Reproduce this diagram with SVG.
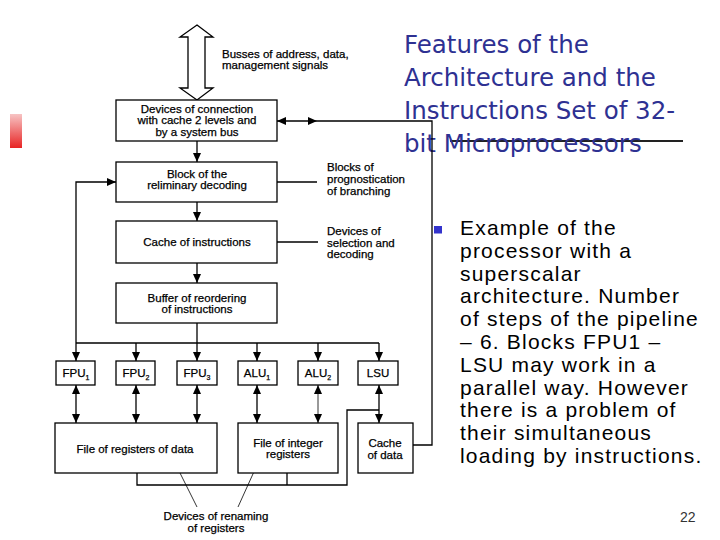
<svg xmlns="http://www.w3.org/2000/svg" width="720" height="540" viewBox="0 0 720 540">
<defs>
<style>
.box{fill:#fff;stroke:#000;stroke-width:1.3}
.ln{fill:none;stroke:#000;stroke-width:1.3}
.thin{fill:none;stroke:#000;stroke-width:0.8}
.t{font-family:"Liberation Sans",Arial,sans-serif;font-size:11.5px;fill:#000;stroke:#000;stroke-width:0.25}
.c{text-anchor:middle}
.title{font-family:"DejaVu Sans",Verdana,sans-serif;font-size:24.5px;fill:#2e3192}
.body{font-family:"Liberation Sans",Arial,sans-serif;font-size:21px;letter-spacing:1.2px;fill:#000}
</style>
<marker id="ah" viewBox="0 0 9 9" refX="9" refY="4.5" markerWidth="9" markerHeight="9" markerUnits="userSpaceOnUse" orient="auto-start-reverse"><path d="M0,0.5 L9,4.5 L0,8.5 z" fill="#000"/></marker>
<linearGradient id="red" x1="0" y1="0" x2="0" y2="1"><stop offset="0" stop-color="#f7c4c4"/><stop offset="1" stop-color="#e82424"/></linearGradient>
</defs>
<rect width="720" height="540" fill="#fff"/>
<rect x="10" y="114" width="12" height="34" fill="url(#red)"/>

<line x1="450" y1="141" x2="683" y2="141" stroke="#222" stroke-width="2"/>
<g id="title">
<text class="title" x="404" y="53">Features of the</text>
<text class="title" x="404" y="86">Architecture and the</text>
<text class="title" x="404" y="119">Instructions Set of 32-</text>
<text class="title" x="404" y="152">bit Microprocessors</text>
</g>

<g id="connectors">
<polygon points="197,25 213,37 205,37 205,88 213,88 197,100 180,88 188,88 188,37 180,37" fill="#fff" stroke="#000" stroke-width="1.3"/>
<line class="ln" x1="277" y1="121" x2="317" y2="121" marker-start="url(#ah)" marker-end="url(#ah)"/>
<path class="ln" d="M317,121 H432 V445 H413"/>
<line class="ln" x1="197" y1="141" x2="197" y2="162" marker-end="url(#ah)"/>
<line class="ln" x1="197" y1="202" x2="197" y2="221" marker-end="url(#ah)"/>
<line class="ln" x1="197" y1="263" x2="197" y2="283" marker-end="url(#ah)"/>
<line class="ln" x1="197" y1="323" x2="197" y2="343"/>
<path class="ln" d="M76,343 V182 H116" marker-end="url(#ah)"/>
<line class="ln" x1="76" y1="343" x2="379" y2="343"/>
<line class="ln" x1="76" y1="343" x2="76" y2="361" marker-end="url(#ah)"/>
<line class="ln" x1="136" y1="343" x2="136" y2="361" marker-end="url(#ah)"/>
<line class="ln" x1="197" y1="343" x2="197" y2="361" marker-end="url(#ah)"/>
<line class="ln" x1="257" y1="343" x2="257" y2="361" marker-end="url(#ah)"/>
<line class="ln" x1="318" y1="343" x2="318" y2="361" marker-end="url(#ah)"/>
<line class="ln" x1="379" y1="343" x2="379" y2="361" marker-end="url(#ah)"/>
<line class="ln" x1="76" y1="385" x2="76" y2="423" marker-start="url(#ah)" marker-end="url(#ah)"/>
<line class="ln" x1="136" y1="385" x2="136" y2="423" marker-start="url(#ah)" marker-end="url(#ah)"/>
<line class="ln" x1="197" y1="385" x2="197" y2="423" marker-start="url(#ah)" marker-end="url(#ah)"/>
<line class="ln" x1="257" y1="385" x2="257" y2="423" marker-start="url(#ah)" marker-end="url(#ah)"/>
<line class="thin" x1="318" y1="385" x2="318" y2="423" marker-start="url(#ah)" marker-end="url(#ah)"/>
<line class="ln" x1="379" y1="385" x2="379" y2="423" marker-start="url(#ah)" marker-end="url(#ah)"/>
<path class="ln" d="M137,473 V485 H347 V410 H379"/>
<line class="ln" x1="287" y1="473" x2="287" y2="485"/>
<line class="ln" x1="266" y1="182" x2="317" y2="182"/>
<line class="ln" x1="266" y1="242" x2="318" y2="242"/>
<line class="thin" x1="177" y1="467" x2="197" y2="507"/>
<line class="thin" x1="257" y1="465" x2="238" y2="507"/>
</g>

<g id="bus-label">
<text class="t" x="222" y="58">Busses of address, data,</text>
<text class="t" x="222" y="69">management signals</text>
</g>
<g id="connection">
<rect class="box" x="116" y="100" width="161" height="41"/>
<text class="t c" x="197" y="113">Devices of connection</text>
<text class="t c" x="197" y="124">with cache 2 levels and</text>
<text class="t c" x="197" y="136">by a system bus</text>
</g>
<g id="predecode">
<rect class="box" x="116" y="162" width="161" height="40"/>
<text class="t c" x="197" y="178">Block of the</text>
<text class="t c" x="197" y="189">reliminary decoding</text>
</g>
<g id="branch-label">
<text class="t" x="327" y="171">Blocks of</text>
<text class="t" x="327" y="183">prognostication</text>
<text class="t" x="327" y="195">of branching</text>
</g>
<g id="icache">
<rect class="box" x="116" y="221" width="161" height="42"/>
<text class="t c" x="197" y="246">Cache of instructions</text>
</g>
<g id="select-label">
<text class="t" x="327" y="235">Devices of</text>
<text class="t" x="327" y="247">selection and</text>
<text class="t" x="327" y="258">decoding</text>
</g>
<g id="buffer">
<rect class="box" x="116" y="283" width="161" height="40"/>
<text class="t c" x="197" y="302">Buffer of reordering</text>
<text class="t c" x="197" y="313">of instructions</text>
</g>
<g id="fpu1"><rect class="box" x="56" y="361" width="39" height="24"/><text class="t c" x="76" y="377">FPU<tspan font-size="7" dy="3">1</tspan></text></g>
<g id="fpu2"><rect class="box" x="116" y="361" width="39" height="24"/><text class="t c" x="136" y="377">FPU<tspan font-size="7" dy="3">2</tspan></text></g>
<g id="fpu3"><rect class="box" x="177" y="361" width="40" height="24"/><text class="t c" x="197" y="377">FPU<tspan font-size="7" dy="3">3</tspan></text></g>
<g id="alu1"><rect class="box" x="238" y="361" width="39" height="24"/><text class="t c" x="257" y="377">ALU<tspan font-size="7" dy="3">1</tspan></text></g>
<g id="alu2"><rect class="box" x="298" y="361" width="40" height="24"/><text class="t c" x="318" y="377">ALU<tspan font-size="7" dy="3">2</tspan></text></g>
<g id="lsu"><rect class="box" x="358" y="361" width="40" height="24"/><text class="t c" x="378" y="377">LSU</text></g>
<g id="fregs">
<rect class="box" x="55" y="423" width="162" height="50"/>
<text class="t c" x="135" y="453">File of registers of data</text>
</g>
<g id="iregs">
<rect class="box" x="238" y="423" width="100" height="50"/>
<text class="t c" x="288" y="447">File of integer</text>
<text class="t c" x="288" y="458">registers</text>
</g>
<g id="dcache">
<rect class="box" x="358" y="423" width="55" height="50"/>
<text class="t c" x="385" y="447">Cache</text>
<text class="t c" x="385" y="459">of data</text>
</g>
<g id="rename-label">
<text class="t c" x="216" y="520">Devices of renaming</text>
<text class="t c" x="216" y="532">of registers</text>
</g>

<g id="bullet-text">
<rect x="434" y="226" width="8" height="7.5" fill="#3333cc"/>
<text class="body" x="460" y="235">Example of the</text>
<text class="body" x="460" y="257.8">processor with a</text>
<text class="body" x="460" y="280.6">superscalar</text>
<text class="body" x="460" y="303.4">architecture. Number</text>
<text class="body" x="460" y="326.2">of steps of the pipeline</text>
<text class="body" x="460" y="349">– 6. Blocks FPU1 –</text>
<text class="body" x="460" y="371.8">LSU may work in a</text>
<text class="body" x="460" y="394.6">parallel way. However</text>
<text class="body" x="460" y="417.4">there is a problem of</text>
<text class="body" x="460" y="440.2">their simultaneous</text>
<text class="body" x="460" y="463">loading by instructions.</text>
</g>
<text x="680" y="522" font-family="Liberation Sans, Arial, sans-serif" font-size="14" fill="#333">22</text>
</svg>
